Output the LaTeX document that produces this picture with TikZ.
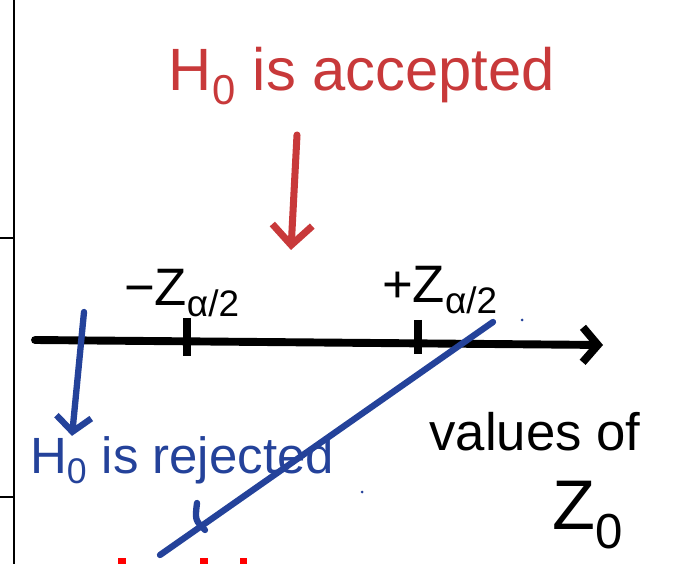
\documentclass[tikz,border=0pt]{standalone}
\usepackage{fontspec}
\setmainfont{Liberation Sans}
\usetikzlibrary{arrows.meta,positioning}
\definecolor{pen}{HTML}{C8393A}
\definecolor{ink}{HTML}{24429A}
\definecolor{brightred}{HTML}{FF0000}
\tikzset{redlbl/.style={text=pen,font=\fontsize{34}{38}\selectfont,inner sep=0pt}, bluelbl/.style={text=ink,font=\fontsize{29}{32}\selectfont,inner sep=0pt}, blklbl/.style={font=\fontsize{30}{34}\selectfont,inner sep=0pt}, axis/.style={line width=4.5pt,line cap=round,-{Straight Barb[length=3mm,width=7mm,line width=4.5pt]}}, redarr/.style={draw=pen,line width=4pt,line cap=round,-{Straight Barb[length=4mm,width=8mm,line width=4pt]}}, bluearr/.style={draw=ink,line width=3.6pt,line cap=round,-{Straight Barb[length=3mm,width=7mm,line width=3.6pt]}}, blueln/.style={draw=ink,line width=3.6pt,line cap=round}}

\begin{document}
\begin{tikzpicture}[x=0.02cm,y=-0.02cm]
\useasboundingbox (0,0) rectangle (673,564);
\draw[line width=1.7pt](14,0)--(14,564);\draw[line width=1.7pt](0,238)--(14,238);\draw[line width=1.7pt](0,497)--(14,497);
\node[redlbl] (acc) at (362,76){H\textsubscript{0} is accepted};
\coordinate (atail) at (297,135);\coordinate (ahead) at (291,250);
\draw[redarr](atail)--(ahead);
\coordinate (ax0) at (35,340);\coordinate (ax1) at (603,345);
\draw[axis](ax0)--(ax1);
\coordinate (lo) at (187,338);\coordinate (hi) at (418,340);
\draw[line width=4.5pt](187,318)--(187,356);\draw[line width=4.5pt](418,320)--(418,354);
\node[blklbl] (zlo) at (182,293){−Z\textsubscript{α/2}};\node[blklbl] (zhi) at (440,290){+Z\textsubscript{α/2}};
\node[bluelbl] (rej) at (182,460){H\textsubscript{0} is rejected};
\coordinate (btail) at (84,312);
\draw[bluearr](btail)--(rej.north -| 72,0);
\coordinate (s0) at (493,322);\coordinate (s1) at (160,555);
\draw[blueln](s0)--(s1);\draw[blueln](197,503)..controls(195,520)..(205,530);
\fill[ink](522,320)circle(1.5);\fill[ink](362,492)circle(1.5);
\node[blklbl] (vals) at (535,432){values of};
\node[blklbl,font=\fontsize{40}{44}\selectfont] (z0) at (588,515){Z\textsubscript{0}};
\fill[brightred](118,558)rectangle(126,564);\fill[brightred](200,558)rectangle(208,564);\fill[brightred](240,558)rectangle(247,564);
\end{tikzpicture}
\end{document}
